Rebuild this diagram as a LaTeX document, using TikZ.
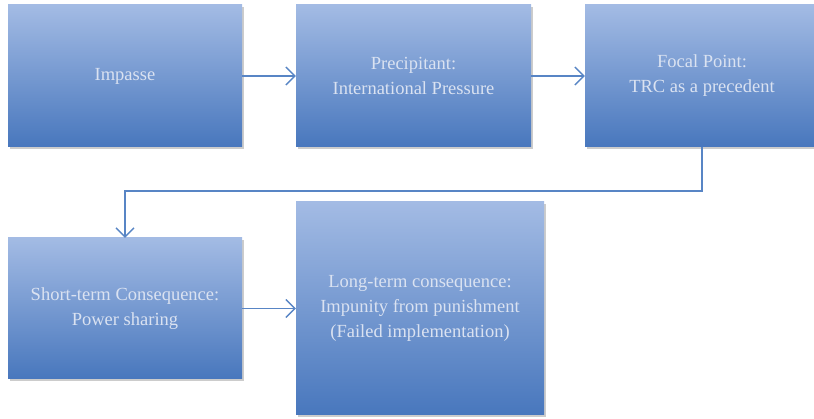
\documentclass[tikz,border=0pt]{standalone}
\usepackage{fontspec}
\setmainfont{Liberation Serif}
\usetikzlibrary{arrows.meta, shadows}

\definecolor{boxtop}{RGB}{163,187,228}
\definecolor{boxbottom}{RGB}{72,119,189}
\definecolor{boxtext}{RGB}{218,226,241}
\definecolor{linkblue}{RGB}{88,133,197}

\begin{document}
\begin{tikzpicture}[x=1pt, y=-1pt,
						stage/.style={rectangle, inner sep=0pt, top color=boxtop, bottom color=boxbottom, text=boxtext, align=center, font=\fontsize{18.5}{25}\selectfont, drop shadow={shadow xshift=1.5pt, shadow yshift=-2.5pt, opacity=0.2, fill=black}},
						link/.style={-{Straight Barb[length=9pt, width=18pt, line width=1.4pt]}, line width=1.6pt, linkblue}
						]
						\useasboundingbox (0,0) rectangle (814,419);
						\clip (0,0) rectangle (814,419);
						
						% Ligne du haut
						\node[stage, minimum width=234pt, minimum height=142pt] (impasse) at (125, 76) {Impasse};
						\node[stage, minimum width=235pt, minimum height=142pt] (precip) at (413.5, 76) {Precipitant:\\International Pressure};
						\node[stage, minimum width=234pt, minimum height=142pt] (focal) at (702, 76) {Focal Point:\\TRC as a precedent};
						
						% Ligne du bas
						\node[stage, minimum width=234pt, minimum height=141pt] (short) at (125, 308.5) {Short-term Consequence:\\Power sharing};
						\node[stage, minimum width=248pt, minimum height=213pt] (long) at (420, 308.5) {Long-term consequence:\\Impunity from punishment\\(Failed implementation)};
						
						% Liaisons
						\coordinate (bend) at (702, 191);
						\draw[link] (impasse.east) -- (precip.west);
						\draw[link] (precip.east) -- (focal.west);
						\draw[link] (focal.south) -- (bend) -| (short.north);
						\draw[link] (short.east) -- (short.east -| long.west);
						
					\end{tikzpicture}
\end{document}
